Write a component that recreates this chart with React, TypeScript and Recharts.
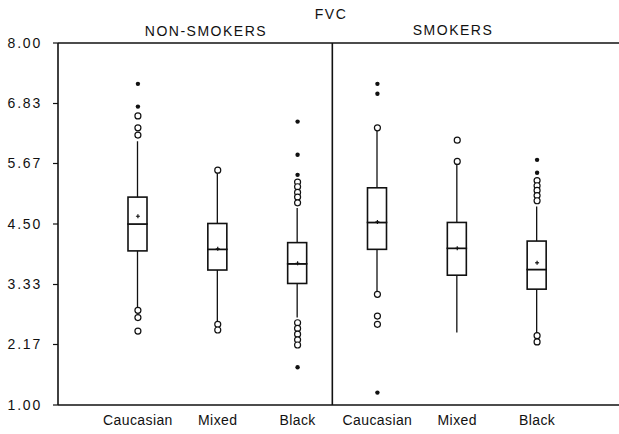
import {
  ComposedChart,
  Bar,
  Scatter,
  XAxis,
  YAxis,
  ReferenceLine,
} from 'recharts';

const groups = ['NS-Caucasian', 'NS-Mixed', 'NS-Black', 'S-Caucasian', 'S-Mixed', 'S-Black'];
const groupLabels = ['Caucasian', 'Mixed', 'Black', 'Caucasian', 'Mixed', 'Black'];

const whiskerLow = [2.85, 2.58, 2.69, 3.17, 2.4, 2.37];
const q1 = [3.98, 3.61, 3.35, 4.01, 3.51, 3.24];
const median = [4.5, 4.01, 3.73, 4.53, 4.03, 3.62];
const q3 = [5.02, 4.51, 4.14, 5.2, 4.53, 4.17];
const whiskerHigh = [6.1, 5.51, 4.81, 6.33, 5.68, 4.84];
const mean = [4.65, 4.02, 3.74, 4.54, 4.03, 3.75];

const openOutliers = [
  [6.59, 6.36, 6.22, 2.83, 2.69, 2.43],
  [5.54, 2.56, 2.45],
  [5.31, 5.22, 5.11, 5.02, 4.91, 2.59, 2.48, 2.37, 2.26, 2.16],
  [6.36, 3.14, 2.72, 2.56],
  [6.12, 5.71],
  [5.34, 5.24, 5.15, 5.05, 4.95, 2.34, 2.22],
];
const filledOutliers = [
  [7.21, 6.77],
  [],
  [6.48, 5.84, 5.45, 1.73],
  [7.21, 7.02, 1.24],
  [],
  [5.74, 5.49],
];

const yTickLabels = ['1.00', '2.17', '3.33', '4.50', '5.67', '6.83', '8.00'];
const yTicks = yTickLabels.map((t) => parseFloat(t));

// hidden position axis: group index 0..5, divider between non-smokers and smokers
const posDomain = [-1.003, 6.032];
const DIVIDER = 2.445;

const rows = groups.map((id, i) => ({
  id,
  base: whiskerLow[i],
  lowW: q1[i] - whiskerLow[i],
  lowBox: median[i] - q1[i],
  highBox: q3[i] - median[i],
  highW: whiskerHigh[i] - q3[i],
  mean: mean[i],
}));

const outliers = groups.flatMap((id, i) => [
  ...openOutliers[i].map((v) => ({ id, v, filled: false })),
  ...filledOutliers[i].map((v) => ({ id, v, filled: true })),
]);

const INK = '#111';

const Nothing = () => <g />;

const Whisker = (p: any) => (
  <line
    x1={p.x + p.width / 2}
    x2={p.x + p.width / 2}
    y1={p.y}
    y2={p.y + p.height}
    stroke={INK}
    strokeWidth={1.3}
  />
);

const BoxPart = (p: any) => (
  <rect x={p.x} y={p.y} width={p.width} height={p.height} fill="#fff" stroke={INK} strokeWidth={1.6} />
);

const Outlier = (p: any) =>
  p.payload.filled ? (
    <circle cx={p.cx} cy={p.cy} r={2.2} fill={INK} />
  ) : (
    <circle cx={p.cx} cy={p.cy} r={3} fill="#fff" stroke={INK} strokeWidth={1.2} />
  );

const MeanMark = (p: any) => (
  <g stroke={INK} strokeWidth={1.2}>
    <line x1={p.cx - 2} x2={p.cx + 2} y1={p.cy} y2={p.cy} />
    <line x1={p.cx} x2={p.cx} y1={p.cy - 2} y2={p.cy + 2} />
  </g>
);

const titleStyle: any = {
  position: 'absolute',
  transform: 'translate(-50%, -50%)',
  fontSize: 14,
  letterSpacing: 1.5,
  color: INK,
  whiteSpace: 'nowrap',
};

export default function App() {
  return (
    <div
      style={{
        position: 'absolute',
        left: 0,
        top: 0,
        width: 619,
        height: 434,
        background: '#fff',
        fontFamily: '"Liberation Sans", Arial, sans-serif',
      }}
    >
      <div style={{ ...titleStyle, left: 331, top: 14 }}>FVC</div>
      <div style={{ ...titleStyle, left: 206, top: 31 }}>NON-SMOKERS</div>
      <div style={{ ...titleStyle, left: 453, top: 30 }}>SMOKERS</div>
      <ComposedChart
        width={619}
        height={434}
        data={rows}
        margin={{ top: 43, right: 0, bottom: 0, left: 0 }}
      >
        <XAxis
          dataKey="id"
          type="category"
          allowDuplicatedCategory={false}
          height={29}
          padding={{ left: 40, right: 42 }}
          tickLine={false}
          tickMargin={4}
          axisLine={{ stroke: INK, strokeWidth: 1.5 }}
          tick={{ fill: INK, fontSize: 14, letterSpacing: 0.4 }}
          tickFormatter={(v: string) => groupLabels[groups.indexOf(v)]}
        />
        <XAxis xAxisId="pos" type="number" domain={posDomain} allowDataOverflow hide />
        <YAxis
          type="number"
          domain={[1, 8]}
          allowDataOverflow
          ticks={yTicks}
          width={58}
          tickSize={5}
          tickMargin={11}
          interval={0}
          axisLine={{ stroke: INK, strokeWidth: 1.6 }}
          tickLine={{ stroke: INK, strokeWidth: 1.2 }}
          tick={{ fill: INK, fontSize: 14, letterSpacing: 1.8 }}
          tickFormatter={(v: number) => yTickLabels[yTicks.indexOf(v)]}
        />
        <ReferenceLine y={8} stroke={INK} strokeWidth={1.6} />
        <ReferenceLine x={DIVIDER} xAxisId="pos" stroke={INK} strokeWidth={1.6} />
        <Bar dataKey="base" stackId="b" barSize={19} shape={Nothing} isAnimationActive={false} />
        <Bar dataKey="lowW" stackId="b" barSize={19} shape={Whisker} isAnimationActive={false} />
        <Bar dataKey="lowBox" stackId="b" barSize={19} shape={BoxPart} isAnimationActive={false} />
        <Bar dataKey="highBox" stackId="b" barSize={19} shape={BoxPart} isAnimationActive={false} />
        <Bar dataKey="highW" stackId="b" barSize={19} shape={Whisker} isAnimationActive={false} />
        <Scatter dataKey="mean" shape={MeanMark} isAnimationActive={false} />
        <Scatter data={outliers} dataKey="v" shape={Outlier} isAnimationActive={false} />
      </ComposedChart>
    </div>
  );
}
